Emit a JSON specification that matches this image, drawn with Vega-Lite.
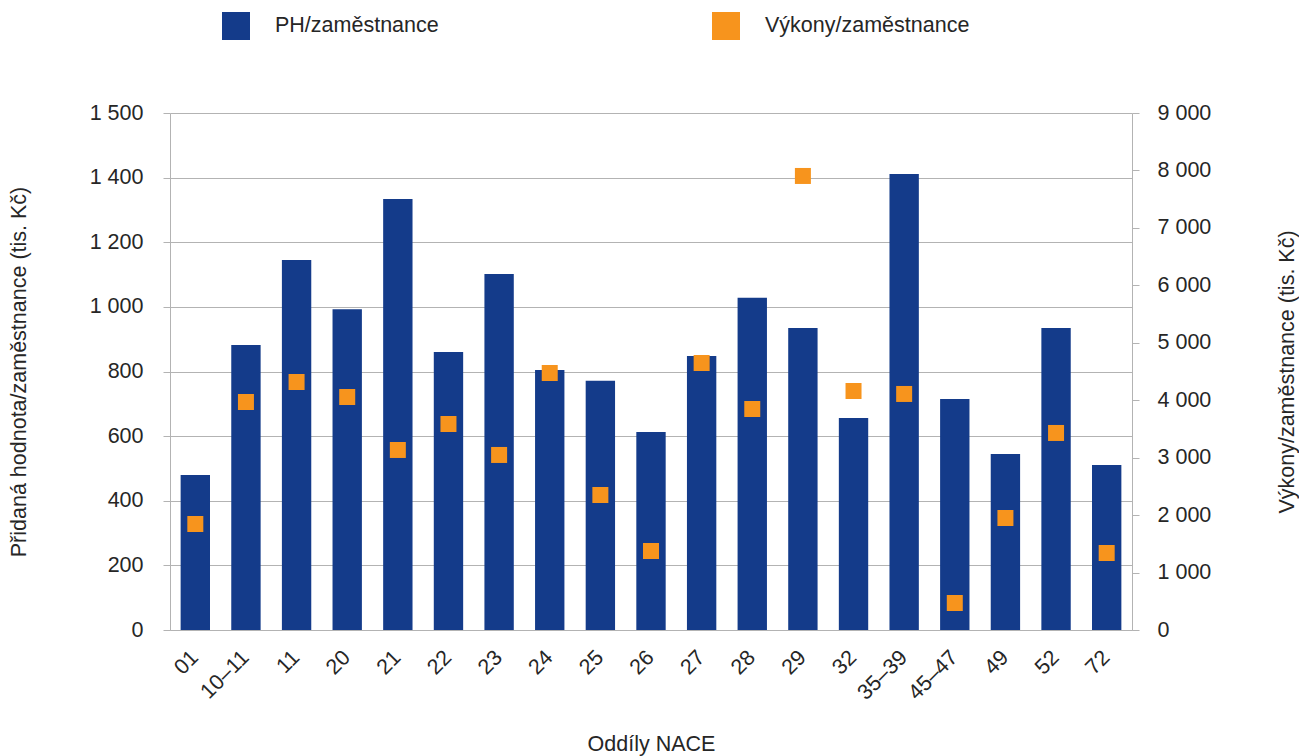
{
  "$schema": "https://vega.github.io/schema/vega-lite/v6.json",
  "width": 962,
  "height": 517,
  "autosize": {"type": "none"},
  "padding": {"left": 170, "top": 113, "right": 167, "bottom": 126},
  "config": {
    "font": "Liberation Sans",
    "view": {"stroke": null},
    "axis": {
      "labelFont": "Liberation Sans",
      "titleFont": "Liberation Sans",
      "labelFontSize": 21.5,
      "titleFontSize": 21.5,
      "titleFontWeight": "normal",
      "labelColor": "#262626",
      "titleColor": "#262626",
      "domainColor": "#b3b3b3",
      "tickColor": "#b3b3b3",
      "gridColor": "#b3b3b3"
    }
  },
  "data": {
    "values": [
      {"nace": "01", "ph": 480, "vykony": 1845},
      {"nace": "10–11", "ph": 882, "vykony": 3969},
      {"nace": "11", "ph": 1145, "vykony": 4317},
      {"nace": "20", "ph": 993, "vykony": 4056},
      {"nace": "21", "ph": 1334, "vykony": 3134},
      {"nace": "22", "ph": 860, "vykony": 3586},
      {"nace": "23", "ph": 1102, "vykony": 3047},
      {"nace": "24", "ph": 805, "vykony": 4474},
      {"nace": "25", "ph": 771, "vykony": 2350},
      {"nace": "26", "ph": 613, "vykony": 1375},
      {"nace": "27", "ph": 848, "vykony": 4648},
      {"nace": "28", "ph": 1028, "vykony": 3847},
      {"nace": "29", "ph": 935, "vykony": 7904},
      {"nace": "32", "ph": 656, "vykony": 4161},
      {"nace": "35–39", "ph": 1411, "vykony": 4109},
      {"nace": "45–47", "ph": 715, "vykony": 470},
      {"nace": "49", "ph": 545, "vykony": 1950},
      {"nace": "52", "ph": 935, "vykony": 3430},
      {"nace": "72", "ph": 511, "vykony": 1340}
    ]
  },
  "encoding": {
    "x": {
      "field": "nace",
      "type": "nominal",
      "sort": null,
      "scale": {"paddingInner": 0.42, "paddingOuter": 0.21},
      "axis": {
        "title": "Oddíly NACE",
        "labelAngle": -45,
        "labelAlign": "right",
        "labelBaseline": "middle",
        "ticks": false,
        "labelPadding": 24,
        "titlePadding": 30,
        "domainColor": "#b3b3b3"
      }
    }
  },
  "layer": [
    {
      "mark": {"type": "bar"},
      "encoding": {
        "y": {
          "field": "ph",
          "type": "quantitative",
          "scale": {"domain": [0, 1600], "nice": false},
          "axis": {
            "title": "Přidaná hodnota/zaměstnance (tis. Kč)",
            "values": [0, 200, 400, 600, 800, 1000, 1200, 1400, 1600],
            "labelExpr": "datum.value == 1600 ? '1 500' : replace(format(datum.value, ','), ',', ' ')",
            "grid": true,
            "tickSize": 7,
            "labelPadding": 20,
            "titlePadding": 59
          }
        },
        "color": {
          "datum": "PH/zaměstnance",
          "type": "nominal",
          "scale": {
            "domain": ["PH/zaměstnance", "Výkony/zaměstnance"],
            "range": ["#143b8a", "#f7941d"]
          },
          "legend": {
            "title": null,
            "orient": "none",
            "legendX": 52,
            "legendY": -101,
            "direction": "horizontal",
            "columns": 2,
            "gridAlign": "all",
            "columnPadding": 232,
            "symbolType": "square",
            "symbolSize": 784,
            "symbolStrokeWidth": 0,
            "symbolOpacity": 1,
            "labelFont": "Liberation Sans",
            "labelFontSize": 21.5,
            "labelColor": "#262626",
            "labelOffset": 25,
            "labelLimit": 0,
            "padding": 0
          }
        }
      }
    },
    {
      "mark": {"type": "point", "shape": "square", "filled": true, "size": 256, "opacity": 1},
      "encoding": {
        "y": {
          "field": "vykony",
          "type": "quantitative",
          "scale": {"domain": [0, 9000], "nice": false},
          "axis": {
            "title": "Výkony/zaměstnance (tis. Kč)",
            "orient": "right",
            "values": [0, 1000, 2000, 3000, 4000, 5000, 6000, 7000, 8000, 9000],
            "labelExpr": "replace(format(datum.value, ','), ',', ' ')",
            "grid": false,
            "tickSize": 7,
            "labelPadding": 18,
            "titleAngle": 270,
            "titlePadding": 88
          }
        },
        "color": {"datum": "Výkony/zaměstnance", "type": "nominal"}
      }
    }
  ],
  "resolve": {"scale": {"y": "independent"}}
}
